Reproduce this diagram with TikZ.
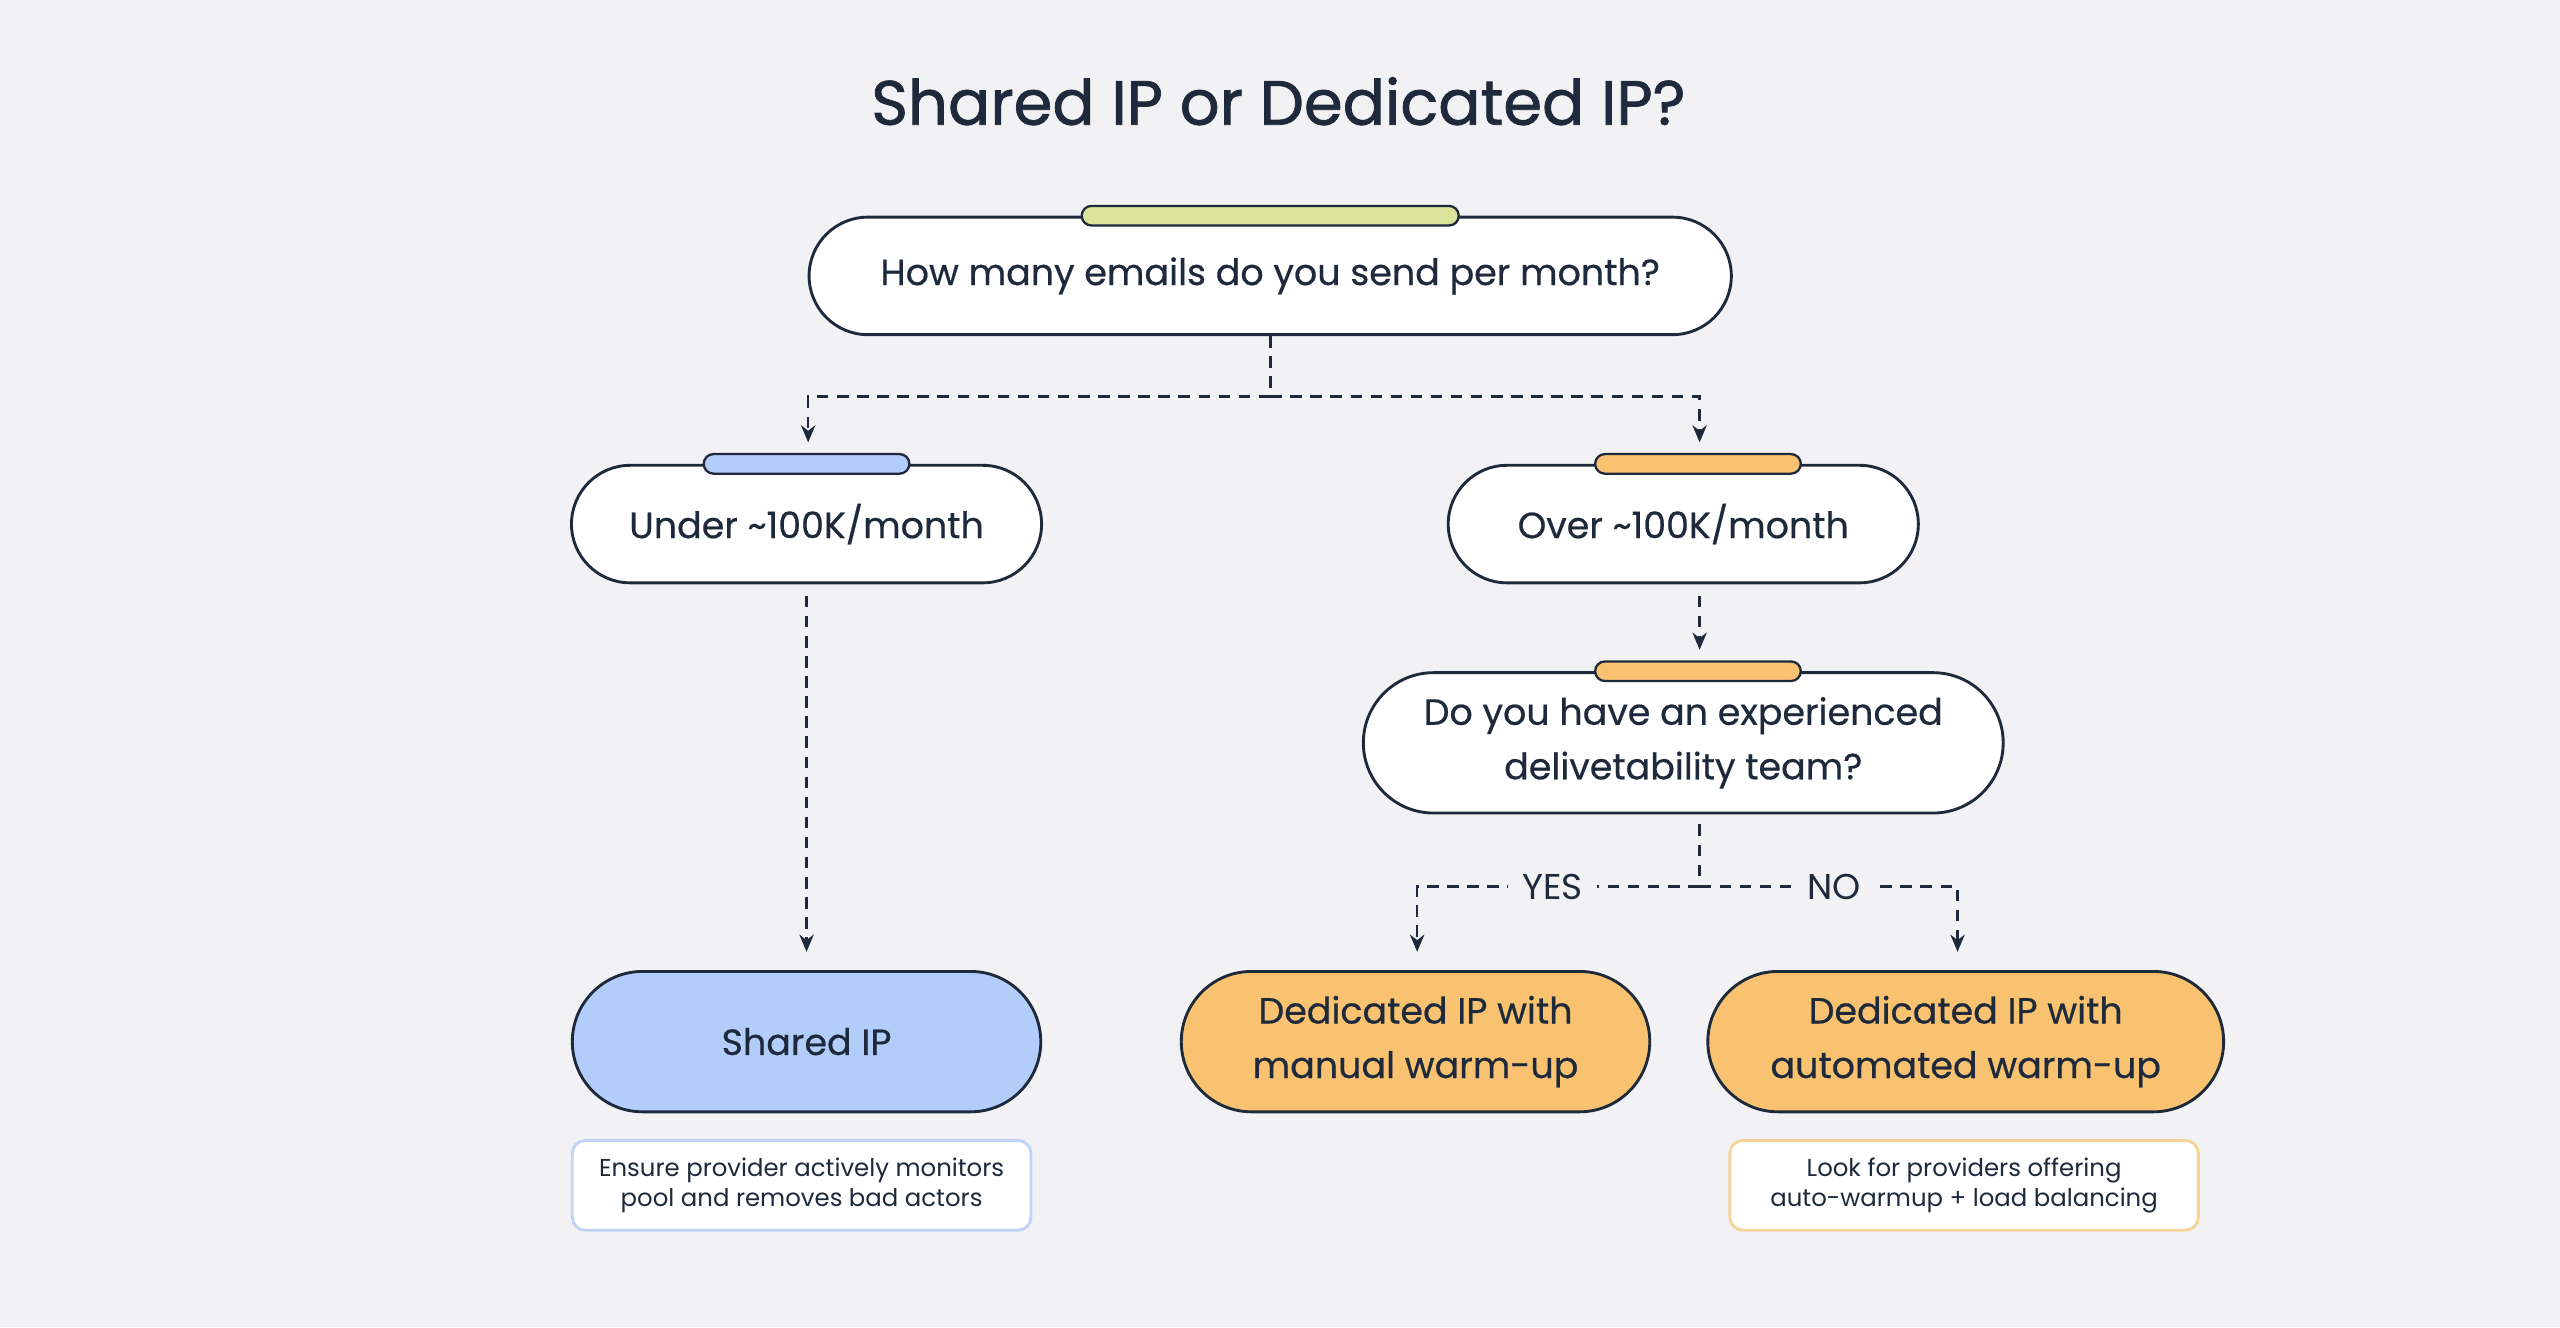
\documentclass[tikz,border=0pt]{standalone}
\usepackage{fontspec}
\setmainfont{Poppins}
\usetikzlibrary{positioning,arrows.meta}
\definecolor{ink}{HTML}{1E2A3B}
\definecolor{bg}{HTML}{F2F2F4}
\definecolor{tabgreen}{HTML}{D9E39A}
\definecolor{ipblue}{HTML}{B3CDFB}
\definecolor{iporange}{HTML}{F8C271}
\definecolor{noteblue}{HTML}{BFD3F8}
\definecolor{noteorange}{HTML}{F6D49A}
\tikzset{
	box/.style={draw=ink, line width=1pt, fill=white, rounded corners=0.72cm, minimum height=1.44cm, align=center, text=ink, font=\fontsize{12.7}{19}\selectfont\addfontfeatures{FakeBold=0.5}},
	bigbox/.style={box, rounded corners=0.86cm, minimum height=1.72cm},
	tab/.style={draw=ink, line width=0.8pt, rounded corners=0.12cm, minimum height=0.24cm, inner sep=0pt},
	note/.style={draw, line width=1pt, fill=white, rounded corners=0.16cm, minimum width=5.62cm, minimum height=1.1cm, align=center, text=ink, font=\fontsize{8.5}{10.5}\selectfont},
	link/.style={draw=ink, line width=0.9pt, dash pattern=on 4pt off 3pt},
	arr/.style={link, -{Stealth[length=6pt,width=5pt]}},
	tag/.style={fill=bg, text=ink, inner xsep=5pt, inner ysep=2pt, font=\fontsize{12.5}{15}\selectfont}
}
\begin{document}
\begin{tikzpicture}[x=0.02cm, y=-0.02cm]
	\fill[bg] (0,0) rectangle (1568,813);
	\useasboundingbox (0,0) rectangle (1568,813);
	\node[text=ink, font=\fontsize{21.8}{26}\selectfont\addfontfeatures{FakeBold=1.2}] (title) at (783,62) {Shared IP or Dedicated IP?};

	% question nodes
	\node[box, minimum width=11.3cm] (q) at (778,169) {How many emails do you send per month?};
	\node[box, minimum width=5.76cm] (under) at (494,321) {Under \textasciitilde100K/month};
	\node[box, minimum width=5.76cm] (over) at (1031,321) {Over \textasciitilde100K/month};
	\node[bigbox, minimum width=7.84cm] (team) at (1031,455) {Do you have an experienced\\delivetability team?};

	% tabs
	\node[tab, fill=tabgreen, minimum width=4.62cm] (tq) at (q.north) {};
	\node[tab, fill=ipblue, minimum width=2.52cm] (tunder) at (under.north) {};
	\node[tab, fill=iporange, minimum width=2.52cm] (tover) at ([xshift=0.18cm]over.north) {};
	\node[tab, fill=iporange, minimum width=2.52cm] (tteam) at ([xshift=0.18cm]team.north) {};

	% results
	\node[bigbox, fill=ipblue, minimum width=5.74cm] (shared) at (494,638) {Shared IP};
	\node[bigbox, fill=iporange, minimum width=5.74cm] (manual) at (867,638) {Dedicated IP with\\manual warm-up};
	\node[bigbox, fill=iporange, minimum width=6.32cm] (auto) at (1204,638) {Dedicated IP with\\automated warm-up};

	\node[note, draw=noteblue] (nshared) at (491,726) {Ensure provider actively monitors\\pool and removes bad actors};
	\node[note, draw=noteorange, minimum width=5.74cm] (nauto) at (1203,726) {Look for providers offering\\auto-warmup + load balancing};

	% connectors
	\coordinate (s1) at (778,243);
	\coordinate (s2) at (1041,505);
	\coordinate (s3) at (1041,543);
	\coordinate (eunder) at (495,271);
	\coordinate (eover) at (1041,271);
	\coordinate (eteam) at (1041,398);
	\coordinate (eauto) at (1199,583);
	\draw[link] (q.south) -- (s1);
	\draw[arr] (s1) -| (eunder);
	\draw[arr] (s1) -| (eover);
	\draw[arr] (494,365) -- (494,583);
	\draw[arr] (1041,365) -- (eteam);
	\draw[link] (s2) -- (s3);
	\draw[arr] (s3) -| node[tag, pos=0.26] {YES} (868,583);
	\draw[arr] (s3) -| node[tag, pos=0.26] {NO} (eauto);
\end{tikzpicture}
\end{document}
